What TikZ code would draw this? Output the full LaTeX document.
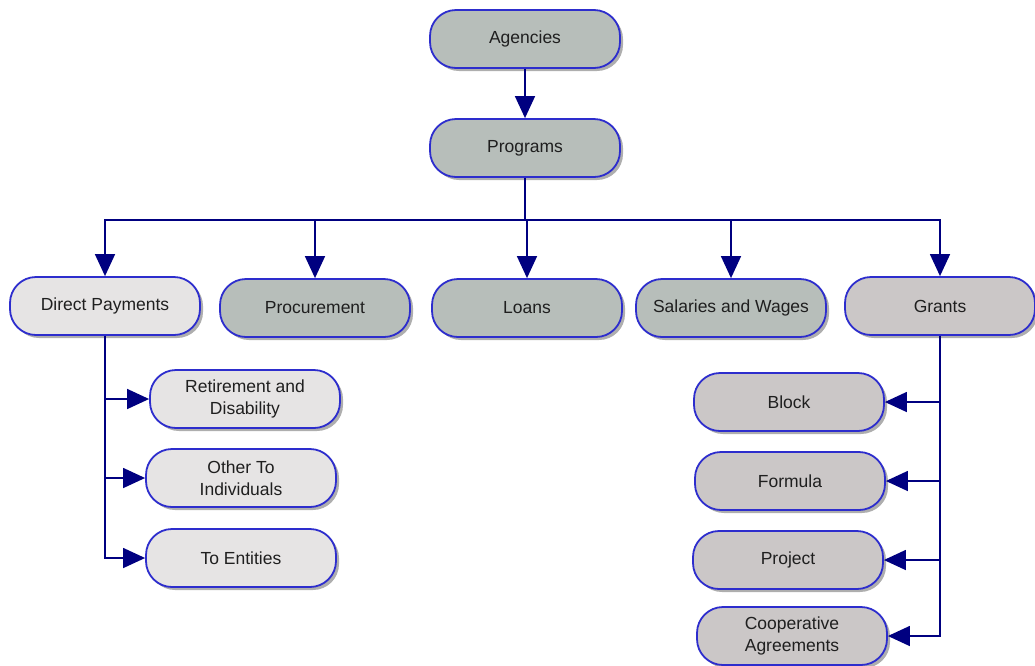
\documentclass[tikz,border=0pt]{standalone}
\usepackage{fontspec}
\setmainfont{Liberation Sans}
\usetikzlibrary{shadows,arrows.meta}
\definecolor{fillA}{RGB}{183,190,186}
\definecolor{fillB}{RGB}{230,228,228}
\definecolor{fillC}{RGB}{203,199,199}
\definecolor{edgeblue}{RGB}{45,45,205}
\definecolor{navyline}{RGB}{0,0,128}
\tikzset{
  box/.style={draw=edgeblue, line width=1.8pt, rounded corners=26pt,
    minimum width=190pt, minimum height=58pt, inner sep=2pt,
    align=center, text=black!88,
    font=\fontsize{17.5}{22}\selectfont,
    drop shadow={shadow xshift=3pt, shadow yshift=-3pt, opacity=0.45, fill=black!70}},
  boxA/.style={box, fill=fillA},
  boxB/.style={box, fill=fillB},
  boxC/.style={box, fill=fillC},
  conn/.style={draw=navyline, line width=1.5pt},
  arr/.style={conn, -{Triangle[length=22pt,width=20pt]}}
}
\begin{document}
\begin{tikzpicture}[x=1pt,y=-1pt]
\useasboundingbox (0,0) rectangle (1035,665);
\node[boxA] (agencies) at (525,39) {Agencies};
\node[boxA] (programs) at (525,148) {Programs};
\node[boxB] (dp) at (105,306) {Direct Payments};
\node[boxA] (proc) at (315,308) {Procurement};
\node[boxA] (loans) at (527,308) {Loans};
\node[boxA] (sal) at (731,308) {Salaries and Wages};
\node[boxC] (grants) at (940,306) {Grants};
\node[boxB] (ret) at (245,399) {Retirement and\\Disability};
\node[boxB] (other) at (241,478) {Other To\\Individuals};
\node[boxB] (ent) at (241,558) {To Entities};
\node[boxC] (block) at (789,402) {Block};
\node[boxC] (formula) at (790,481) {Formula};
\node[boxC] (project) at (788,560) {Project};
\node[boxC] (coop) at (792,636) {Cooperative\\Agreements};
\coordinate (bar) at (527,220);
\draw[arr] (agencies) -- (programs);
\draw[conn] (programs.south) -- (programs.south |- bar);
\draw[arr] (programs.south |- bar) -| (dp.north);
\draw[arr] (programs.south |- bar) -| (proc.north);
\draw[arr] (programs.south |- bar) -| (loans.north);
\draw[arr] (programs.south |- bar) -| (sal.north);
\draw[arr] (programs.south |- bar) -| (grants.north);
\draw[arr] (dp.south) |- (ret.west);
\draw[arr] (dp.south) |- (other.west);
\draw[arr] (dp.south) |- (ent.west);
\draw[arr] (grants.south) |- (block.east);
\draw[arr] (grants.south) |- (formula.east);
\draw[arr] (grants.south) |- (project.east);
\draw[arr] (grants.south) |- (coop.east);
\end{tikzpicture}
\end{document}
